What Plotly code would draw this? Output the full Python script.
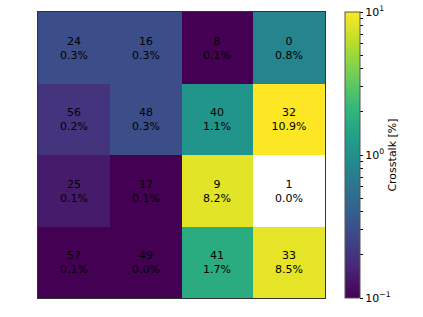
import math
import plotly.graph_objects as go

# Channel numbers per cell (top row first)
channels = [
    [24, 16, 8, 0],
    [56, 48, 40, 32],
    [25, 17, 9, 1],
    [57, 49, 41, 33],
]
# Crosstalk in percent (top row first); 0.0 for the reference channel (masked)
crosstalk = [
    [0.30, 0.30, 0.10, 0.80],
    [0.20, 0.30, 1.10, 10.9],
    [0.14, 0.09, 8.20, 0.0],
    [0.07, 0.04, 1.70, 8.50],
]
cbar_ticks = [0.1, 1, 10]
cbar_ticktext = ["10<sup>−1</sup>", "10<sup>0</sup>", "10<sup>1</sup>"]
cbar_minor = [0.2, 0.3, 0.4, 0.5, 0.6, 0.7, 0.8, 0.9, 2, 3, 4, 5, 6, 7, 8, 9]

z = [[(math.log10(v) if v > 0 else None) for v in row] for row in crosstalk]
text = [[f"{c}<br>{v:.1f}%" for c, v in zip(crow, vrow)] for crow, vrow in zip(channels, crosstalk)]

tickvals = [math.log10(t) for t in cbar_ticks] + [math.log10(t) for t in cbar_minor]
ticktext = cbar_ticktext + [""] * len(cbar_minor)

fig = go.Figure(go.Heatmap(
    z=z,
    x=list(range(4)),
    y=list(range(4)),
    text=text,
    texttemplate="%{text}",
    textfont=dict(family="DejaVu Sans", size=11, color="black"),
    colorscale="Viridis",
    zmin=-1, zmax=1,
    xgap=0, ygap=0,
    hoverongaps=False,
    colorbar=dict(
        x=1.07, xanchor="left", xref="paper",
        y=0.5, yanchor="middle", len=1.0, lenmode="fraction",
        thickness=15, xpad=0, ypad=0,
        outlinewidth=1, outlinecolor="#555",
        tickvals=tickvals, ticktext=ticktext,
        ticks="outside", ticklen=3, tickwidth=1, tickcolor="black",
        tickfont=dict(family="DejaVu Sans", size=11, color="black"),
        title=dict(text="Crosstalk [%]", side="right",
                   font=dict(family="DejaVu Sans", size=11, color="black")),
    ),
))

fig.update_xaxes(showticklabels=False, ticks="", showgrid=False, zeroline=False,
                 showline=True, linecolor="#333", linewidth=1, mirror=True,
                 range=[-0.5, 3.5])
fig.update_yaxes(showticklabels=False, ticks="", showgrid=False, zeroline=False,
                 showline=True, linecolor="#333", linewidth=1, mirror=True,
                 range=[3.5, -0.5])

fig.update_layout(
    width=423, height=317,
    margin=dict(l=38, r=98, t=12, b=19, autoexpand=False),
    paper_bgcolor="white", plot_bgcolor="white",
    font=dict(family="DejaVu Sans", size=11, color="black"),
)

fig.write_html("out.html",
               config={"displayModeBar": False},
               post_script="document.body.style.margin='0';document.body.style.overflow='hidden';")
